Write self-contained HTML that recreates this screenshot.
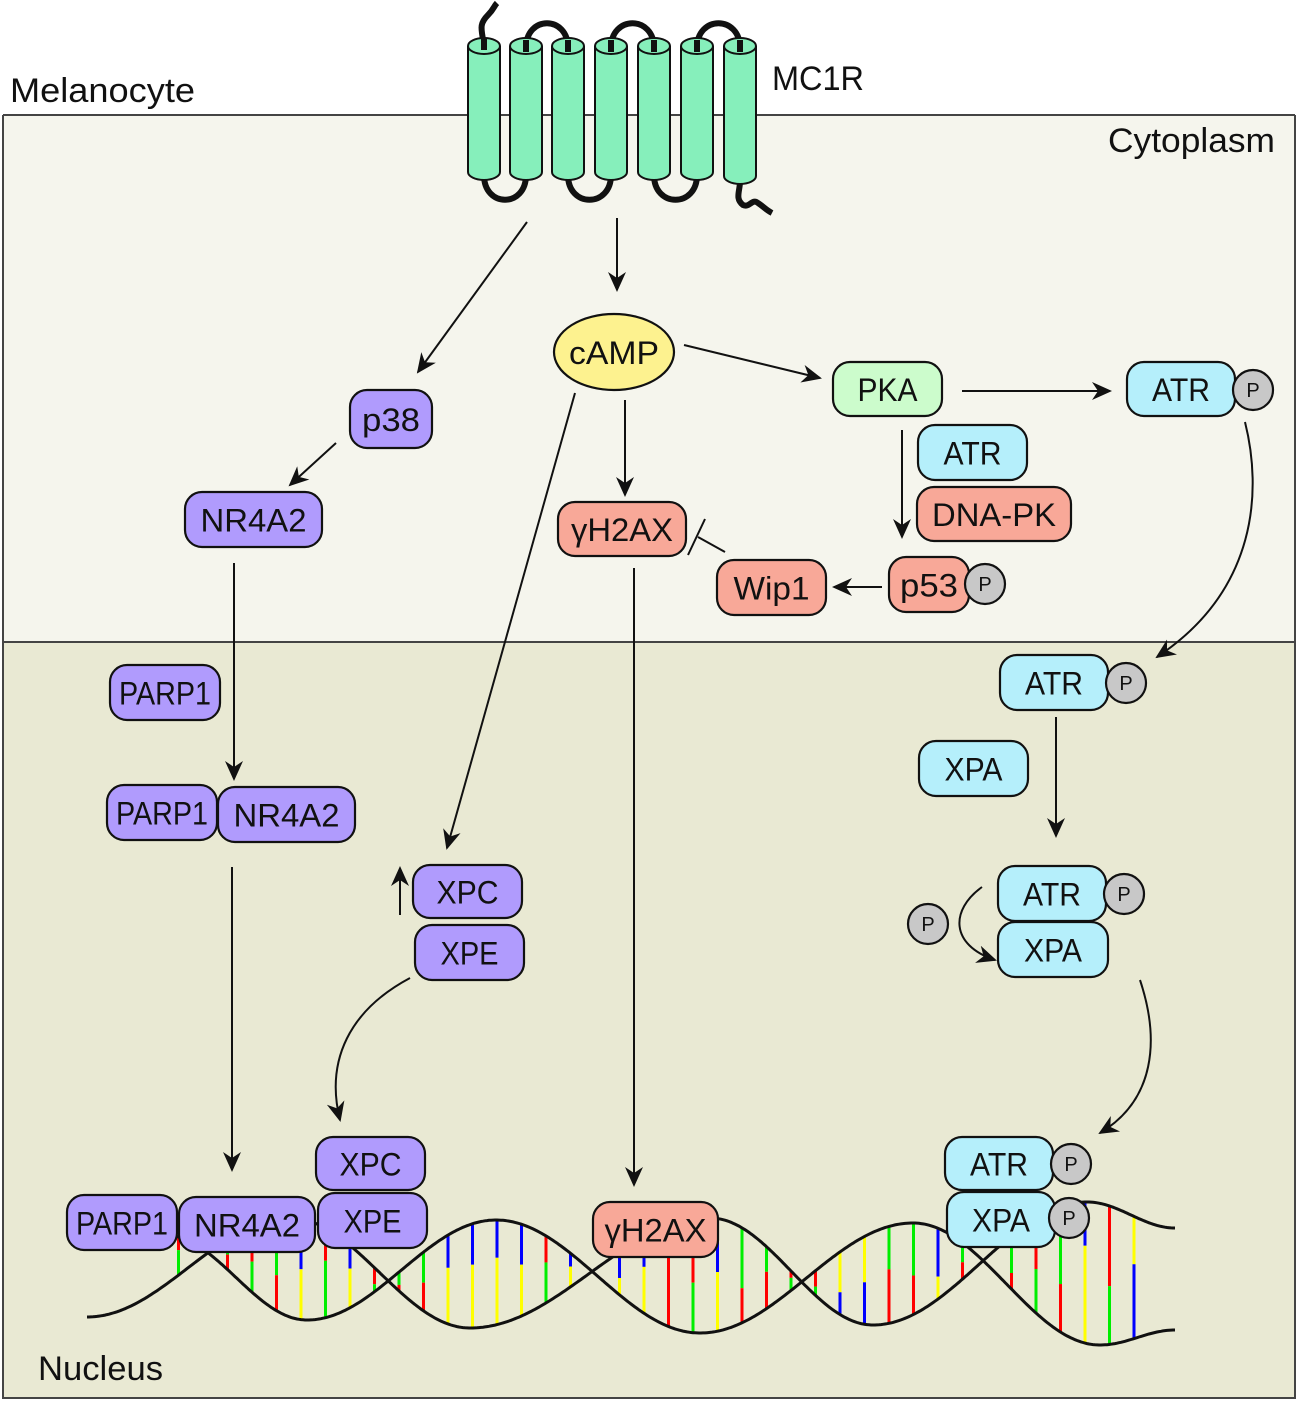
<!DOCTYPE html>
<html><head><meta charset="utf-8"><style>
html,body{margin:0;padding:0;background:#fff;}
svg{display:block;}
text{font-family:"Liberation Sans",sans-serif;fill:#111;}
.b{stroke:#111;stroke-width:2.2;}
.pu{fill:#b09bfd;} .bl{fill:#b5effb;} .sa{fill:#f8a898;} .gr{fill:#ccfccc;}
.pc{fill:#c8c8c8;stroke:#111;stroke-width:2.2;}
.t{font-size:32px;text-anchor:middle;}
.ps{font-size:20px;text-anchor:middle;}
.ln{stroke:#111;stroke-width:2;fill:none;}
</style></head><body>
<svg id="s" width="1299" height="1402" viewBox="0 0 1299 1402" xmlns="http://www.w3.org/2000/svg">
<defs>
<marker id="ah2" viewBox="0 0 20 20" refX="18" refY="10" markerWidth="20" markerHeight="20" markerUnits="userSpaceOnUse" orient="auto">
<path d="M0,1 L20,10 L0,19 L6,10 Z" fill="#111"/></marker>
</defs>
<rect x="3" y="115" width="1292" height="527" fill="#f5f5ed"/>
<rect x="3" y="642" width="1292" height="756" fill="#e9e9d3"/>
<path d="M3,115 H1295 M3,642 H1295 M3,115 V1398 H1295 V115" stroke="#444" stroke-width="2" fill="none"/>
<text x="10" y="102" style="font-size:34px" textLength="185" lengthAdjust="spacingAndGlyphs">Melanocyte</text>
<text x="772" y="90" style="font-size:34px" textLength="92" lengthAdjust="spacingAndGlyphs">MC1R</text>
<text x="1108" y="152" style="font-size:34px" textLength="167" lengthAdjust="spacingAndGlyphs">Cytoplasm</text>
<text x="38" y="1380" style="font-size:34px" textLength="125" lengthAdjust="spacingAndGlyphs">Nucleus</text>

<g stroke="#111" stroke-width="6" fill="none" stroke-linecap="butt">
<path d="M484,46 C482,30 478,25 488,15 C494,9 494,6 497,3"/>
<path d="M526,48 C526,15 568,15 568,48"/>
<path d="M611,48 C611,15 654,15 654,48"/>
<path d="M697,48 C697,15 740,15 740,48"/>
<path d="M484,175 C484,208 526,208 526,175"/>
<path d="M568,175 C568,208 611,208 611,175"/>
<path d="M654,175 C654,208 697,208 697,175"/>
<path d="M740,178 C741,190 734,198 743,205 C750,208 752,198 758,203 C764,207 766,210 772,213"/>
</g>
<g id="cyl"></g>

<g id="dna"></g>

<g class="ln">
<path d="M527,222 L418,372" marker-end="url(#ah2)"/>
<path d="M617,218 L617,290" marker-end="url(#ah2)"/>
<path d="M336,443 L290,485" marker-end="url(#ah2)"/>
<path d="M684,345 L820,378" marker-end="url(#ah2)"/>
<path d="M962,391 L1110,391" marker-end="url(#ah2)"/>
<path d="M575,393 L447,848" marker-end="url(#ah2)"/>
<path d="M625,400 L625,495" marker-end="url(#ah2)"/>
<path d="M902,430 L902,537" marker-end="url(#ah2)"/>
<path d="M882,587 L834,587" marker-end="url(#ah2)"/>
<path d="M725,552 L698,537"/>
<path d="M705,519 L688,555"/>
<path d="M634,568 L634,1185" marker-end="url(#ah2)"/>
<path d="M234,563 L234,779" marker-end="url(#ah2)"/>
<path d="M232,867 L232,1170" marker-end="url(#ah2)"/>
<path d="M400,915 L400,868" marker-end="url(#ah2)"/>
<path d="M410,978 C350,1010 325,1060 340,1120" marker-end="url(#ah2)"/>
<path d="M1245,422 C1262,490 1258,590 1157,657" marker-end="url(#ah2)"/>
<path d="M1056,717 L1056,836" marker-end="url(#ah2)"/>
<path d="M982,887 C950,910 950,945 995,960" marker-end="url(#ah2)"/>
<path d="M1140,980 C1160,1040 1155,1100 1100,1133" marker-end="url(#ah2)"/>
</g>

<ellipse cx="614" cy="352" rx="60" ry="38" fill="#fdf28f" class="b"/>
<text x="614" y="364" class="t" textLength="90" lengthAdjust="spacingAndGlyphs">cAMP</text>
<g id="boxes"></g>
</svg>
<script>
var NS="http://www.w3.org/2000/svg";
function el(tag,attrs,parent,txt){var e=document.createElementNS(NS,tag);for(var k in attrs)e.setAttribute(k,attrs[k]);if(txt!==undefined)e.textContent=txt;parent.appendChild(e);return e;}
var cyl=document.getElementById('cyl');
[484,526,568,611,654,697,740].forEach(function(cx,i){
 var w=32,top=46,bot=172+(i==6?4:0),ry=8;
 el('path',{d:'M'+(cx-w/2)+','+top+' V'+bot+' A'+(w/2)+','+ry+' 0 0 0 '+(cx+w/2)+','+bot+' V'+top,fill:'#86efbb',stroke:'#111','stroke-width':2},cyl);
 el('ellipse',{cx:cx,cy:top,rx:w/2,ry:ry,fill:'#86efbb',stroke:'#111','stroke-width':2},cyl);
});
var tops=[[484,46],[526,48],[568,48],[611,48],[654,48],[697,48],[740,48]];
tops.forEach(function(p){el('path',{d:'M'+p[0]+','+(p[1]+4)+' V'+(p[1]-8),stroke:'#111','stroke-width':6},cyl);});
var dna=document.getElementById('dna');
var X=[[87,1317],[290,1218],[470,1328],[710,1218],[873,1325],[1087,1202],[1175,1228]];
var Y=[[165,1235],[307,1320],[496,1220],[700,1333],[913,1223],[1100,1345],[1175,1330]];
function f(P,x){for(var i=0;i<P.length-1;i++){var a=P[i],b=P[i+1];if(x>=a[0]&&x<=b[0]){var t=(x-a[0])/(b[0]-a[0]);return a[1]+(b[1]-a[1])*(1-Math.cos(Math.PI*t))/2;}}return null;}
var seed=7;function rnd(){seed=(seed*9301+49297)%233280;return seed/233280;}
var C=[['#ff0000','#00ee00'],['#ffff00','#0000ff']];
for(var x=105;x<1150;x+=24.5){
 var a=f(X,x),b=f(Y,x);if(a===null||b===null)continue;
 var lo=Math.min(a,b),hi=Math.max(a,b);if(hi-lo<14)continue;
 var pr=C[rnd()<0.5?0:1];if(rnd()<0.5)pr=[pr[1],pr[0]];
 var m=lo+(hi-lo)*(0.3+0.4*rnd());
 el('line',{x1:x,y1:lo,x2:x,y2:m,stroke:pr[0],'stroke-width':3},dna);
 el('line',{x1:x,y1:m,x2:x,y2:hi,stroke:pr[1],'stroke-width':3},dna);
}
function pathOf(P){var d='';for(var x=P[0][0];x<=P[P.length-1][0];x+=2){d+=(d?'L':'M')+x+','+f(P,x).toFixed(1);}return d;}
el('path',{d:pathOf(X),stroke:'#111','stroke-width':3,fill:'none'},dna);
el('path',{d:pathOf(Y),stroke:'#111','stroke-width':3,fill:'none'},dna);
var B=document.getElementById('boxes');
function box(x1,y1,x2,y2,cls,txt,tl){
 el('rect',{x:x1,y:y1,width:x2-x1,height:y2-y1,rx:17,ry:17,'class':'b '+cls},B);
 el('text',{x:(x1+x2)/2,y:(y1+y2)/2+12,'class':'t',textLength:tl,lengthAdjust:'spacingAndGlyphs'},B,txt);
}
function P(cx,cy,r){r=r||20;el('circle',{cx:cx,cy:cy,r:r,'class':'pc'},B);el('text',{x:cx,y:cy+7,'class':'ps'},B,'P');}
box(350,390,432,448,'pu','p38',58);
box(185,492,322,547,'pu','NR4A2',106);
box(110,665,220,720,'pu','PARP1',92);
box(107,785,217,840,'pu','PARP1',92);
box(218,787,355,842,'pu','NR4A2',106);
box(413,865,522,918,'pu','XPC',62);
box(415,925,524,980,'pu','XPE',58);
box(316,1137,425,1190,'pu','XPC',62);
box(318,1193,427,1248,'pu','XPE',58);
box(67,1195,177,1250,'pu','PARP1',92);
box(179,1197,315,1252,'pu','NR4A2',106);
box(833,362,942,416,'gr','PKA',60);
box(1127,362,1235,416,'bl','ATR',58);P(1253,390);
box(918,425,1027,480,'bl','ATR',58);
box(917,487,1071,541,'sa','DNA-PK',124);
box(558,502,686,556,'sa','γH2AX',102);
box(717,560,826,615,'sa','Wip1',76);
box(889,557,969,612,'sa','p53',58);P(985,584);
box(1000,655,1108,710,'bl','ATR',58);P(1126,683);
box(919,741,1028,796,'bl','XPA',58);
box(998,866,1106,921,'bl','ATR',58);P(1124,894);
box(998,922,1108,977,'bl','XPA',58);
P(928,924);
box(945,1137,1053,1190,'bl','ATR',58);P(1071,1164);
box(947,1192,1055,1247,'bl','XPA',58);P(1069,1218);
box(593,1202,718,1257,'sa','γH2AX',102);
</script>
</body></html>
